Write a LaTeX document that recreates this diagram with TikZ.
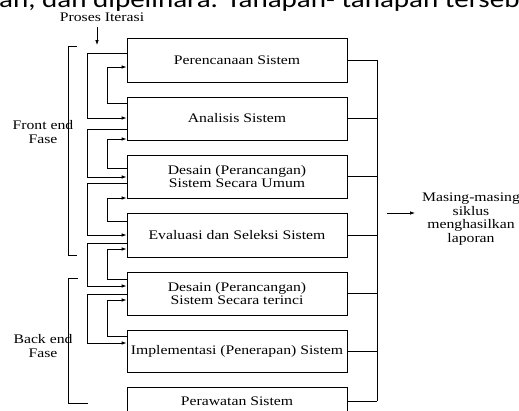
\documentclass[tikz,border=0pt]{standalone}
\usepackage{fontspec}
\setmainfont[FakeStretch=1.2]{Liberation Serif}
\newfontfamily\headfont[FakeStretch=1.2]{Carlito}
\usetikzlibrary{arrows.meta,calc}

\begin{document}
\begin{tikzpicture}[x=1pt,y=-1pt,
  every node/.style={font=\fontsize{13.1}{13.5}\selectfont, inner sep=0pt, align=center},
  stepbox/.style={draw, line width=0.8pt, minimum width=220pt},
  link/.style={line width=0.8pt},
  flow/.style={link, -{Latex[length=5pt,width=3.6pt]}},
]
\useasboundingbox (0,0) rectangle (519,410);
\clip (0,0) rectangle (519,410);
\fill[white] (0,0) rectangle (519,410);

% running text of the page, cut by the top edge
\node[font=\headfont\fontsize{24.2}{24.2}\selectfont, anchor=base west] (head) at (-1,7)
  {an, dan dipelihara. Tahapan- tahapan tersebut};

% the seven stages
\node[stepbox, minimum height=44pt] (b1) at (237,60)    {Perencanaan Sistem};
\node[stepbox, minimum height=43pt] (b2) at (237,118.5) {Analisis Sistem};
\node[stepbox, minimum height=43pt] (b3) at (237,176.5) {Desain (Perancangan)\\Sistem Secara Umum};
\node[stepbox, minimum height=44pt] (b4) at (237,235)   {Evaluasi dan Seleksi Sistem};
\node[stepbox, minimum height=43pt] (b5) at (237,293.5) {Desain (Perancangan)\\Sistem Secara terinci};
\node[stepbox, minimum height=42pt] (b6) at (237,351)   {Implementasi (Penerapan) Sistem};
\node[stepbox, minimum height=28pt] (b7) at (237,401)   {Perawatan Sistem};

% iteration entry
\node[anchor=base] (iter) at (102,21) {Proses Iterasi};
\coordinate (iterTop) at (97,27);
\coordinate (iterTip) at (97,45);
\draw[flow] (iterTop) -- (iterTip);

% forward loops (outer rail) and feedback loops (inner rail)
\draw[flow] (b1.west |- 0,53)  -| (87,118) -- (b2.west |- 0,118);
\draw[flow] (b2.west |- 0,103) -| (107,67) -- (b1.west |- 0,67);

\draw[flow] (b2.west |- 0,129) -| (87,177) -- (b3.west |- 0,177);
\draw[flow] (b3.west |- 0,168) -| (107,139) -- (b2.west |- 0,139);

\draw[flow] (b3.west |- 0,183) -| (87,235) -- (b4.west |- 0,235);
\draw[flow] (b4.west |- 0,221) -| (107,198) -- (b3.west |- 0,198);

\draw[flow] (b4.west |- 0,243) -| (87,286) -- (b5.west |- 0,286);
\draw[flow] (b5.west |- 0,279) -| (107,249) -- (b4.west |- 0,249);

\draw[flow] (b5.west |- 0,294) -| (87,343) -- (b6.west |- 0,343);
\draw[flow] (b6.west |- 0,336) -| (107,300) -- (b5.west |- 0,300);

% report bus on the right
\coordinate (busTop) at (377,60);
\coordinate (busBot) at (377,401);
\foreach \b in {b1,b2,b3,b4,b5,b6,b7}
  \draw[link] (\b.east) -- (\b.east -| busTop);
\draw[link] (busTop) -- (busBot);

\node (report) at (471,219) {Masing-masing\\siklus\\menghasilkan\\laporan};
\coordinate (outA) at (387,213);
\coordinate (outB) at (415,213);
\draw[flow] (outA) -- (outB);

% phase brackets
\draw[link] (77,46) -- (68,46) -- (68,255) -- (77,255);
\node (front) at (43,132) {Front end\\Fase};
\draw[link] (78,278) -- (68,278) -- (68,403) -- (88,403);
\node (back) at (43,346) {Back end\\Fase};
\end{tikzpicture}
\end{document}
